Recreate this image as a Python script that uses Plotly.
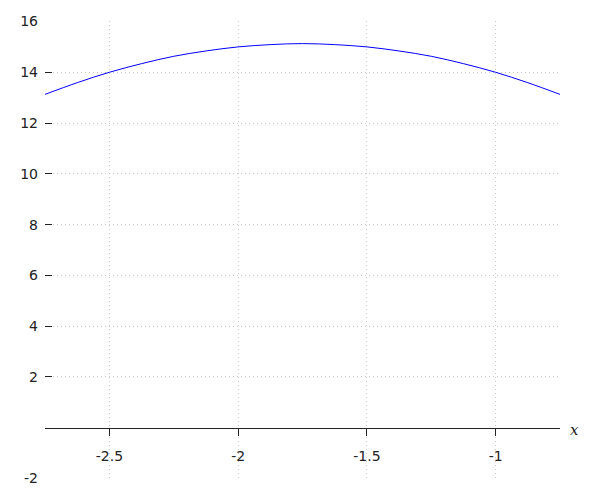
import plotly.graph_objects as go

# Data
x_vals = [-2.75, -2.625, -2.5, -2.375, -2.25, -2.125, -2.0, -1.875, -1.75,
          -1.625, -1.5, -1.375, -1.25, -1.125, -1.0, -0.875, -0.75]
y_vals = [13.13, 13.59, 14.0, 14.34, 14.63, 14.84, 15.0, 15.09, 15.13,
          15.09, 15.0, 14.84, 14.63, 14.34, 14.0, 13.59, 13.13]

x_ticks = [-2.5, -2, -1.5, -1]
x_ticklabels = ["-2.5", "-2", "-1.5", "-1"]
y_ticks = [-2, 2, 4, 6, 8, 10, 12, 14, 16]
y_ticklabels = ["-2", "2", "4", "6", "8", "10", "12", "14", "16"]

x_range = [-2.75, -0.75]
y_range = [-2.02, 16.02]

fig = go.Figure()
fig.add_trace(go.Scatter(x=x_vals, y=y_vals, mode="lines",
                         line=dict(color="#0000ff", width=1, shape="spline"),
                         showlegend=False, hoverinfo="skip"))

axis_pos = (0 - y_range[0]) / (y_range[1] - y_range[0])

fig.update_layout(
    width=600, height=500,
    margin=dict(l=45, r=40, t=21, b=21),
    paper_bgcolor="white", plot_bgcolor="white",
    font=dict(family="DejaVu Sans", size=14, color="#222222"),
    xaxis=dict(range=x_range, tickvals=x_ticks, ticktext=x_ticklabels,
               showgrid=True, gridcolor="#c8c8c8", griddash="1px,3px", gridwidth=1,
               zeroline=False, showline=True, linecolor="#222222", linewidth=1,
               ticks="outside", ticklen=7, tickcolor="#222222",
               anchor="free", position=axis_pos, ticklabelstandoff=8,
               automargin=False),
    yaxis=dict(range=y_range, tickvals=y_ticks, ticktext=y_ticklabels,
               showgrid=True, gridcolor="#c8c8c8", griddash="1px,3px", gridwidth=1,
               zeroline=False, showline=False,
               ticks="inside", ticklen=7, tickcolor="#222222",
               ticklabelstandoff=6, automargin=False),
)

fig.add_annotation(text="x", xref="paper", yref="paper", x=1.0, y=axis_pos,
                   xanchor="left", yanchor="middle", xshift=8, yshift=-2, showarrow=False,
                   font=dict(family="DejaVu Serif", size=15, color="#222222", style="italic"))

fig.write_html("out.html", config={"displayModeBar": False},
               post_script="document.body.style.margin='0';document.body.style.overflow='hidden';")
